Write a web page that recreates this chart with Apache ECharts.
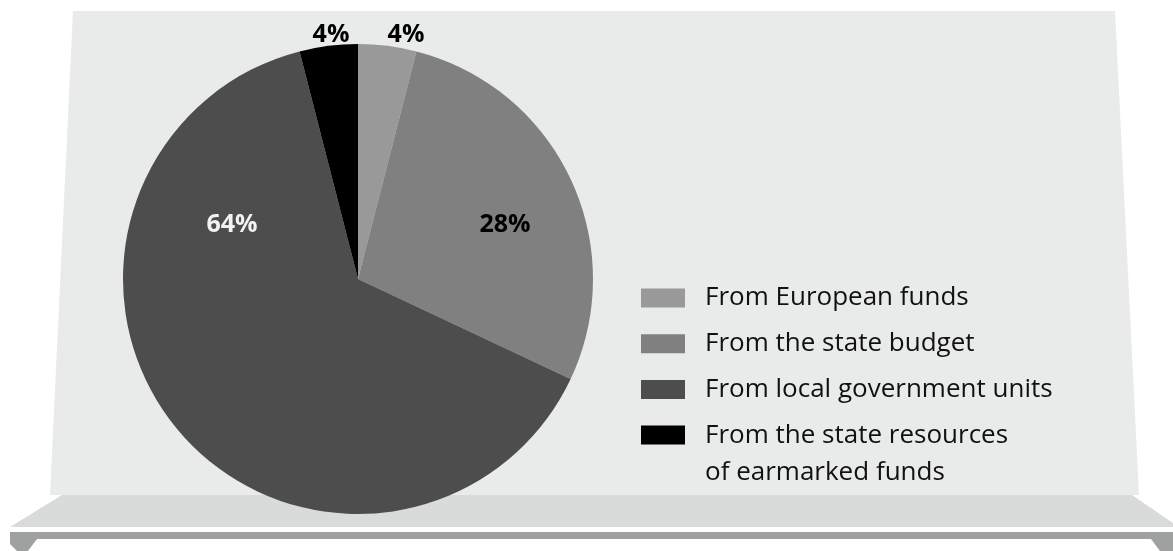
<!DOCTYPE html>
<html>
<head>
<meta charset="utf-8">
<script src="https://cdn.jsdelivr.net/npm/echarts@6/dist/echarts.min.js"></script>
<style>
html,body{margin:0;padding:0;background:#fff;}
#chart{width:1173px;height:551px;}
</style>
</head>
<body>
<div id="chart"></div>
<script>
// ---- data ----
const categories = ['From European funds', 'From the state budget', 'From local government units', 'From the state resources\nof earmarked funds'];
const values = [4, 28, 64, 4];
const sliceColors = ['#999999', '#808080', '#4d4d4d', '#000000'];
const labelColors = ['#000000', '#000000', '#f2f2f2', '#000000'];

// ---- layout / style ----
const CX = 358, CY = 279, R = 235;
const labelOffsets = [[48, -244], [147, -54], [-126, -54], [-27, -244]];
const LH = 37;
const FS = 26;
const LEGEND_LEFT = 641, LEGEND_TOP = 279.5, ROW_GAP = 8.7, TEXT_PAD = 15;

const chart = echarts.init(document.getElementById('chart'), null, {renderer: 'canvas'});

// second line of the last legend entry (legend items are single-line)
const lastLines = categories[categories.length - 1].split('\n');
const lastItemCenterY = LEGEND_TOP + LH / 2 + (categories.length - 1) * (LH + ROW_GAP);

const option = {
  backgroundColor: '#ffffff',
  animation: false,
  graphic: [
    {type: 'polygon', z: -10, shape: {points: [[73, 11], [1115, 11], [1139, 495], [50, 495]]}, style: {fill: '#e9eaea'}},
    {type: 'polygon', z: -10, shape: {points: [[62, 495], [1132, 495], [1173, 523], [1173, 527], [10, 527]]}, style: {fill: '#d9dada'}},
    {type: 'rect', z: -10, shape: {x: 10, y: 532, width: 1163, height: 7}, style: {fill: '#9fa0a0'}},
    {type: 'polygon', z: -10, shape: {points: [[10, 539], [37, 539], [28, 551], [17, 551], [10, 544]]}, style: {fill: '#9fa0a0'}},
    {type: 'polygon', z: -10, shape: {points: [[1151, 539], [1173, 539], [1173, 551], [1160, 551]]}, style: {fill: '#9fa0a0'}},
    {type: 'text', z: 10,
      x: LEGEND_LEFT + 44 + 5 + TEXT_PAD,
      y: lastItemCenterY + LH,
      style: {text: lastLines.slice(1).join(' '), fontFamily: 'Open Sans', fontSize: FS, fill: '#111111',
              textAlign: 'left', textVerticalAlign: 'middle', verticalAlign: 'middle'}}
  ],
  legend: {
    orient: 'vertical',
    left: LEGEND_LEFT,
    top: LEGEND_TOP,
    padding: 0,
    itemWidth: 44,
    itemHeight: 19,
    itemGap: ROW_GAP,
    icon: 'rect',
    selectedMode: false,
    formatter: name => name.split('\n')[0],
    textStyle: {
      fontFamily: 'Open Sans',
      fontSize: FS,
      color: '#111111',
      lineHeight: LH,
      padding: [0, 0, 0, TEXT_PAD]
    },
    data: categories
  },
  series: [{
    type: 'pie',
    center: [CX, CY],
    radius: [0, R],
    startAngle: 90,
    clockwise: true,
    avoidLabelOverlap: false,
    silent: true,
    itemStyle: {borderWidth: 0},
    label: {
      show: true,
      position: 'inside',
      fontFamily: 'Open Sans',
      fontWeight: 'bold',
      fontSize: 25,
      formatter: p => Math.round(p.percent) + '%'
    },
    labelLine: {show: false},
    labelLayout: function (p) {
      const o = labelOffsets[p.dataIndex];
      return {x: CX + o[0], y: CY + o[1], align: 'center', verticalAlign: 'middle'};
    },
    data: categories.map((c, i) => ({
      name: c,
      value: values[i],
      itemStyle: {color: sliceColors[i]},
      label: {color: labelColors[i]}
    }))
  }]
};
chart.setOption(option);
</script>
</body>
</html>
